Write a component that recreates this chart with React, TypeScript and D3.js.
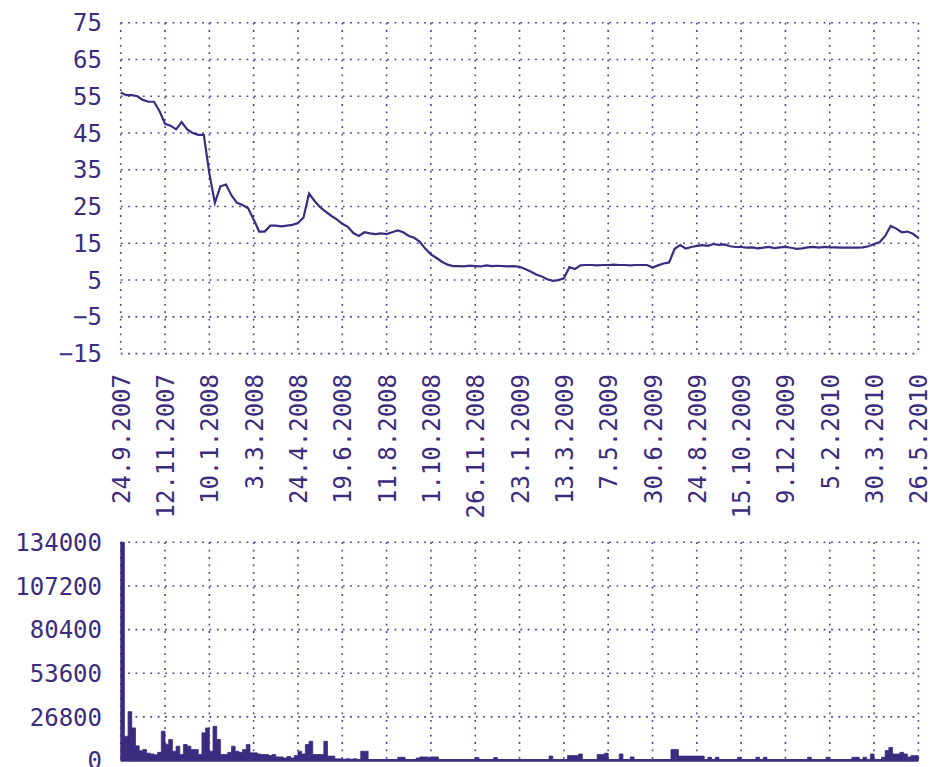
import React from 'react';
import * as d3 from 'd3';

// x-axis labels (evenly spaced, trading-day based)
const dateLabels = [
  '24.9.2007', '12.11.2007', '10.1.2008', '3.3.2008', '24.4.2008', '19.6.2008',
  '11.8.2008', '1.10.2008', '26.11.2008', '23.1.2009', '13.3.2009', '7.5.2009',
  '30.6.2009', '24.8.2009', '15.10.2009', '9.12.2009', '5.2.2010', '30.3.2010', '26.5.2010',
];

const priceTicks = [75, 65, 55, 45, 35, 25, 15, 5, -5, -15];
const volumeTicks = [134000, 107200, 80400, 53600, 26800, 0];

// price, 8 samples per label interval
const price = [
  56, 55.3, 55.3, 55, 54, 53.5, 53.5, 51, 47.5, 47,
  46, 48, 46, 45, 44.5, 44.5, 34, 26, 30.5, 31,
  28, 26, 25.4, 24.5, 21.5, 18.2, 18.2, 19.8, 19.8, 19.6,
  19.8, 20, 20.5, 22, 28.5, 26.5, 24.8, 23.6, 22.5, 21.5,
  20.3, 19.5, 17.8, 17, 18, 17.7, 17.5, 17.7, 17.5, 18,
  18.5, 18, 17, 16.5, 15.4, 13.5, 12, 11, 10, 9.2,
  8.8, 8.8, 8.7, 8.9, 8.8, 8.7, 9, 8.8, 8.9, 8.8,
  8.7, 8.8, 8.6, 8, 7.3, 6.5, 6, 5.2, 4.8, 5,
  5.5, 8.5, 8, 9, 9.1, 9.1, 9, 9.1, 9.1, 9.2,
  9.1, 9.1, 9, 9.1, 9.1, 9.1, 8.4, 9, 9.5, 9.8,
  13.5, 14.5, 13.6, 14, 14.3, 14.5, 14.3, 14.8, 14.6, 14.7,
  14.2, 14, 14, 13.8, 13.9, 13.6, 13.8, 14, 13.7, 13.9,
  14, 13.8, 13.5, 13.6, 13.9, 14, 13.8, 14, 13.9, 13.9,
  13.8, 13.8, 13.8, 13.8, 13.9, 14.2, 14.8, 15.3, 17, 19.7,
  19, 18, 18.2, 17.6, 16.5,
];

// volume, 12 samples per label interval
const volume = [
  134000, 14900, 30000, 20000, 9000, 6000, 6700, 4500, 4000, 3500,
  5000, 18000, 10000, 12900, 5700, 8800, 3700, 9800, 8800, 6700,
  6700, 3700, 17000, 20000, 5700, 21000, 12900, 3700, 3700, 5000,
  8800, 5700, 5000, 6700, 9800, 4700, 4700, 4000, 3700, 3700,
  3000, 3700, 2200, 2200, 1500, 2500, 1600, 3000, 5700, 4000,
  9800, 11800, 3700, 3700, 3700, 11800, 2700, 2700, 1000, 1000,
  800, 1000, 800, 1000, 600, 5700, 5700, 600, 600, 600,
  600, 600, 600, 600, 600, 2000, 2000, 600, 600, 600,
  1500, 2200, 2200, 2000, 2200, 2200, 600, 600, 600, 600,
  600, 600, 600, 600, 600, 600, 1800, 600, 600, 600,
  600, 1800, 600, 600, 600, 600, 600, 600, 600, 600,
  600, 600, 600, 600, 600, 600, 2700, 600, 600, 600,
  600, 3000, 3000, 3000, 4000, 600, 600, 600, 600, 3700,
  3700, 4500, 600, 600, 600, 4000, 600, 600, 2200, 600,
  600, 600, 600, 600, 600, 600, 600, 600, 600, 6700,
  6700, 2700, 2700, 2700, 2700, 2700, 2700, 2700, 600, 2000,
  600, 2000, 600, 600, 600, 600, 600, 2000, 600, 600,
  600, 600, 2000, 600, 2000, 600, 600, 600, 600, 600,
  600, 600, 600, 600, 600, 600, 2000, 600, 600, 600,
  600, 2000, 600, 600, 600, 600, 600, 600, 2000, 2000,
  600, 2000, 600, 4000, 600, 600, 2000, 6100, 8000, 4000,
  4000, 5000, 4000, 2200, 3000, 3000, 3000,
];

const INK = '#3b2c80';
const GRID = '#4d3f98';
const FONT = '"DejaVu Sans Mono", monospace';

const App = () => {
  const width = 930;
  const height = 767;
  const left = 120.7;
  const right = 918.4;

  const xLabel = d3.scaleLinear().domain([0, dateLabels.length - 1]).range([left, right]);
  const xPrice = d3.scaleLinear().domain([0, price.length - 1]).range([left, right]);
  const xVol = d3.scaleLinear().domain([0, volume.length - 1]).range([left, right]);

  const yPrice = d3.scaleLinear().domain([-15, 75]).range([353.6, 22.7]);
  const yVol = d3.scaleLinear().domain([0, 134000]).range([760.5, 542.3]);

  const fmt = d3.format('d');

  const priceLine = d3.line<number>()
    .x((_, i) => xPrice(i))
    .y(d => yPrice(d));

  const volArea = d3.area<number>()
    .x((_, i) => xVol(i))
    .y0(yVol(0))
    .y1(d => yVol(d))
    .curve(d3.curveStepAfter);

  const dots = { stroke: GRID, strokeWidth: 1.6, strokeDasharray: '1.8 5.6', fill: 'none' };

  return (
    <div style={{ position: 'absolute', left: 0, top: 0 }}>
      <svg width={width} height={height} style={{ display: 'block', background: '#fff' }}>
        {/* price panel grid */}
        <g>
          {priceTicks.map(t => (
            <line key={'hp' + t} x1={left} x2={right} y1={yPrice(t)} y2={yPrice(t)} {...dots} />
          ))}
          {dateLabels.map((d, i) => (
            <line key={'vp' + d} x1={xLabel(i)} x2={xLabel(i)} y1={yPrice(75)} y2={yPrice(-15)} {...dots} />
          ))}
        </g>
        {/* volume panel grid */}
        <g>
          {volumeTicks.filter(t => t > 0).map(t => (
            <line key={'hv' + t} x1={left} x2={right} y1={yVol(t)} y2={yVol(t)} {...dots} />
          ))}
          {dateLabels.map((d, i) => (
            <line key={'vv' + d} x1={xLabel(i)} x2={xLabel(i)} y1={yVol(134000)} y2={yVol(0)} {...dots} />
          ))}
        </g>

        {/* price line */}
        <path d={priceLine(price) || ''} fill="none" stroke={INK} strokeWidth={2.2} strokeLinejoin="miter" />

        {/* volume area */}
        <path d={volArea(volume) || ''} fill={INK} stroke={INK} strokeWidth={0.8} />
        <line x1={left} x2={right} y1={yVol(0)} y2={yVol(0)} stroke={INK} strokeWidth={2.5} />

        {/* y labels */}
        <g fontFamily={FONT} fontSize={24} fill={INK} textAnchor="end">
          {priceTicks.map(t => (
            <text key={'lp' + t} x={102} y={yPrice(t)} dy="0.36em">{fmt(t)}</text>
          ))}
          {volumeTicks.map(t => (
            <text key={'lv' + t} x={102} y={yVol(t)} dy="0.36em">{fmt(t)}</text>
          ))}
        </g>

        {/* x labels */}
        <g fontFamily={FONT} fontSize={24} fill={INK} textAnchor="end">
          {dateLabels.map((d, i) => (
            <text key={'lx' + d} transform={`translate(${xLabel(i) + 9},374) rotate(-90)`}>{d}</text>
          ))}
        </g>
      </svg>
    </div>
  );
};

export default App;
